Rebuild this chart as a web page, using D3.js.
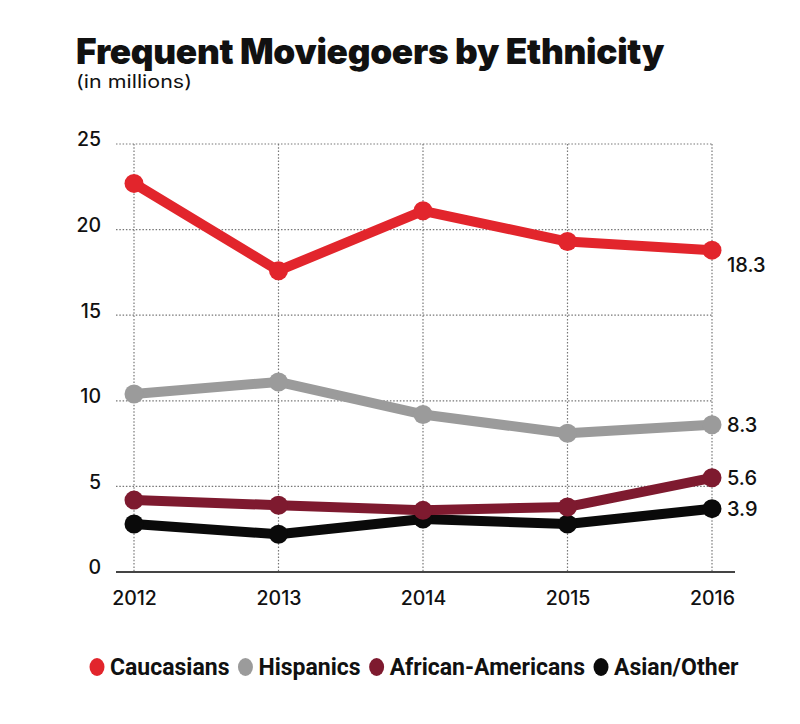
<!DOCTYPE html>
<html>
<head>
<meta charset="utf-8">
<script src="https://cdn.jsdelivr.net/npm/d3@7"></script>
<style>
  html, body { margin: 0; padding: 0; background: #ffffff; }
  svg { display: block; }
  text { font-family: Inter, Roboto, "Liberation Sans", sans-serif; fill: #111; }
</style>
</head>
<body>
<svg id="chart" width="800" height="724"></svg>
<script>
// ---- data ----
const years = [2012, 2013, 2014, 2015, 2016];
const seriesNames = ["Caucasians", "Hispanics", "African-Americans", "Asian/Other"];
const caucasians = [22.7, 17.6, 21.1, 19.3, 18.8];
const hispanics = [10.4, 11.1, 9.2, 8.1, 8.6];
const africanAmericans = [4.2, 3.9, 3.6, 3.8, 5.5];
const asianOther = [2.8, 2.2, 3.1, 2.8, 3.7];
const endLabels = ["18.3", "8.3", "5.6", "3.9"];
const yTicks = [0, 5, 10, 15, 20, 25];
const colors = ["#e2252c", "#9b9b9b", "#7e1a2f", "#0a0a0a"];

const seriesValues = [caucasians, hispanics, africanAmericans, asianOther];
const series = seriesNames.map((name, i) => ({
  name, color: colors[i], label: endLabels[i],
  points: years.map((yr, j) => ({ year: yr, value: seriesValues[i][j] }))
}));

const svg = d3.select("#chart");

// ---- scales ----
const x = d3.scalePoint().domain(years).range([134, 712]);
const y = d3.scaleLinear().domain([0, 25]).range([572, 144]);
const plotLeft = 116, axisRight = 735;

// ---- title ----
svg.append("text")
  .attr("x", 76).attr("y", 64)
  .attr("textLength", 588).attr("lengthAdjust", "spacingAndGlyphs")
  .style("font-size", "35px").style("font-weight", 900)
  .style("letter-spacing", "-0.3px")
  .text("Frequent Moviegoers by Ethnicity");
svg.append("text")
  .attr("x", 76).attr("y", 88)
  .attr("textLength", 116).attr("lengthAdjust", "spacingAndGlyphs")
  .style("font-size", "18px").style("font-weight", 400)
  .text("(in millions)");

// ---- grid ----
const grid = svg.append("g");
grid.selectAll("line.h").data(yTicks.filter(t => t > 0)).join("line")
  .attr("class", "h")
  .attr("x1", plotLeft).attr("x2", x(2016))
  .attr("y1", d => y(d)).attr("y2", d => y(d))
  .attr("stroke", "#777").attr("stroke-width", 1.2)
  .attr("stroke-dasharray", "1.5,1.8");
grid.selectAll("line.v").data(years).join("line")
  .attr("class", "v")
  .attr("x1", d => x(d)).attr("x2", d => x(d))
  .attr("y1", y(25)).attr("y2", y(0))
  .attr("stroke", "#777").attr("stroke-width", 1.2)
  .attr("stroke-dasharray", "1.5,1.8");

// ---- y axis labels ----
const yAxis = d3.axisLeft(y).tickValues(yTicks).tickSize(0).tickPadding(0);
const yg = svg.append("g").attr("transform", `translate(101,0)`).call(yAxis);
yg.select(".domain").remove();
yg.selectAll("text")
  .style("font-family", "Inter, Roboto, sans-serif")
  .style("font-size", "19.5px").style("font-weight", 500).attr("fill", "#111")
  .attr("dy", "0.1em");

// ---- x axis ----
svg.append("line")
  .attr("x1", plotLeft).attr("x2", axisRight)
  .attr("y1", y(0)).attr("y2", y(0))
  .attr("stroke", "#444").attr("stroke-width", 2.2);
const xAxis = d3.axisBottom(x).tickSize(0).tickPadding(0);
const xg = svg.append("g").attr("transform", `translate(0,${y(0) + 18})`).call(xAxis);
xg.select(".domain").remove();
xg.selectAll("text")
  .style("font-family", "Inter, Roboto, sans-serif")
  .style("font-size", "19.5px").style("font-weight", 500).attr("fill", "#111")
  .attr("dy", "0.75em");

// ---- lines ----
const line = d3.line().x(d => x(d.year)).y(d => y(d.value));
const sg = svg.append("g").selectAll("g").data(series.slice().reverse()).join("g");
sg.append("path")
  .attr("d", d => line(d.points))
  .attr("fill", "none").attr("stroke", d => d.color)
  .attr("stroke-width", 10).attr("stroke-linejoin", "round");
sg.selectAll("circle").data(d => d.points.map(p => ({ ...p, color: d.color }))).join("circle")
  .attr("cx", d => x(d.year)).attr("cy", d => y(d.value))
  .attr("r", 9.5).attr("fill", d => d.color);

// ---- end labels ----
svg.append("g").selectAll("text").data(series).join("text")
  .attr("x", x(2016) + 15)
  .attr("y", (d, i) => y(d.points[4].value) + (i === 0 ? 15 : 0))
  .attr("dy", "0.36em")
  .style("font-size", "20px").style("font-weight", 500)
  .text(d => d.label);

// ---- legend ----
const legend = svg.append("g").attr("transform", "translate(0,667)");
let lx = 89;
series.forEach(s => {
  const g = legend.append("g");
  g.append("ellipse").attr("cx", lx + 8).attr("cy", 0).attr("rx", 7.5).attr("ry", 9).attr("fill", s.color);
  const t = g.append("text").attr("x", lx + 21).attr("y", 0).attr("dy", "0.36em")
    .style("font-family", "Roboto, Inter, sans-serif")
    .style("font-size", "23px").style("font-weight", 700)
    .text(s.name);
  lx += 21 + t.node().getComputedTextLength() + 8;
});
</script>
</body>
</html>
